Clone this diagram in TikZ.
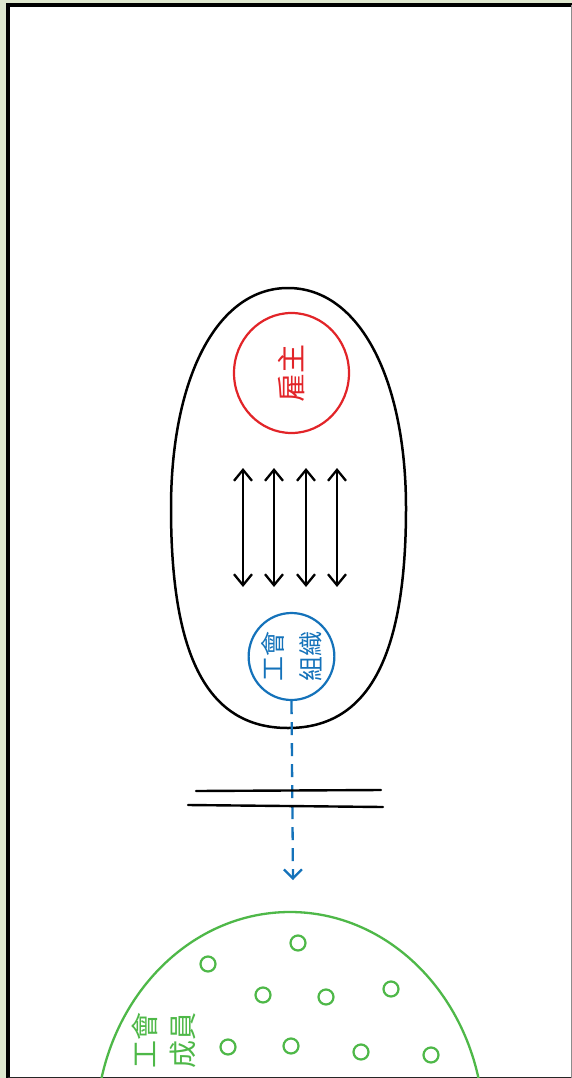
\documentclass[tikz,border=0pt]{standalone}
\usepackage{fontspec}
\newfontfamily\cjk{Noto Sans CJK TC}
\usetikzlibrary{arrows.meta, shapes.geometric}
\definecolor{paper}{RGB}{222,231,206}
\definecolor{bossred}{RGB}{226,36,40}
\definecolor{unionblue}{RGB}{20,114,186}
\definecolor{membergreen}{RGB}{78,184,72}

\begin{document}
\begin{tikzpicture}[x=1pt, y=-1pt,
  font=\cjk,
  ring/.style={draw, ellipse, line width=2.2pt, inner sep=0pt, align=center},
  dot/.style={draw=membergreen, circle, line width=2.2pt, minimum size=15pt, inner sep=0pt},
  barb/.tip={Straight Barb[length=11pt, width=18pt, line width=2.3pt]},
  arr/.style={barb-barb, line width=2.3pt},
  rule/.style={line width=2.4pt, line cap=round}]

  % page and frame
  \useasboundingbox (0,0) rectangle (572,1078);
  \fill[paper] (0,0) rectangle (572,1078);
  \fill[white] (8,5) rectangle (571,1078);
  \draw[line width=3.4pt] (6,5) -- (572,5);
  \draw[line width=3.4pt] (8,3.3) -- (8,1078);
  \draw[black!45, line width=1pt] (571,5) -- (571,1078);
  \draw[black!85, line width=1.4pt] (8,1077.3) -- (571,1077.3);

  % the shell holding both sides
  \draw[line width=2.5pt] (288,288) .. controls (360,288) and (406,380) .. (406,508)
    .. controls (406,650) and (372,728) .. (288,728)
    .. controls (204,728) and (171,650) .. (171,508)
    .. controls (171,380) and (216,288) .. (288,288) -- cycle;

  % employer and union
  \node[ring, draw=bossred, text=bossred, rotate=90, minimum width=120pt, minimum height=115pt,
        font=\cjk\fontsize{29}{35}\selectfont] (boss) at (291.5,373) {雇主};
  \node[ring, draw=unionblue, text=unionblue, rotate=90, minimum width=87pt, minimum height=85pt,
        font=\cjk\fontsize{25}{38}\selectfont] (union) at (291.5,656.5) {工會\\組織};

  % bargaining
  \foreach \x/\i in {243/1, 274/2, 306/3, 337/4}
    \draw[arr] (\x,468) coordinate (up\i) -- (\x,587) coordinate (dn\i);

  % broken link
  \coordinate (cut) at (293,880);
  \draw[unionblue, line width=2.3pt, dash pattern=on 13pt off 8pt,
        -{Straight Barb[length=9pt, width=18pt, line width=2.3pt]}] (union.west) -- (cut);
  \draw[rule] (196,791) -- (381,790);
  \draw[rule] (188,805) -- (383,807);

  % members
  \begin{scope}
    \clip (8,5) rectangle (571,1077);
    \draw[membergreen, line width=2.3pt] (290,1130) ellipse [x radius=194, y radius=218];
  \end{scope}
  \node[membergreen, rotate=90, align=center, font=\cjk\fontsize{28}{38}\selectfont]
    (members) at (164,1040) {工會\\成員};
  \foreach \x/\y [count=\i] in {298/943, 208/964, 263/995, 326/997, 391/989,
                                228/1047, 291/1046, 361/1052, 431/1055}
    \node[dot] (m\i) at (\x,\y) {};
\end{tikzpicture}
\end{document}
